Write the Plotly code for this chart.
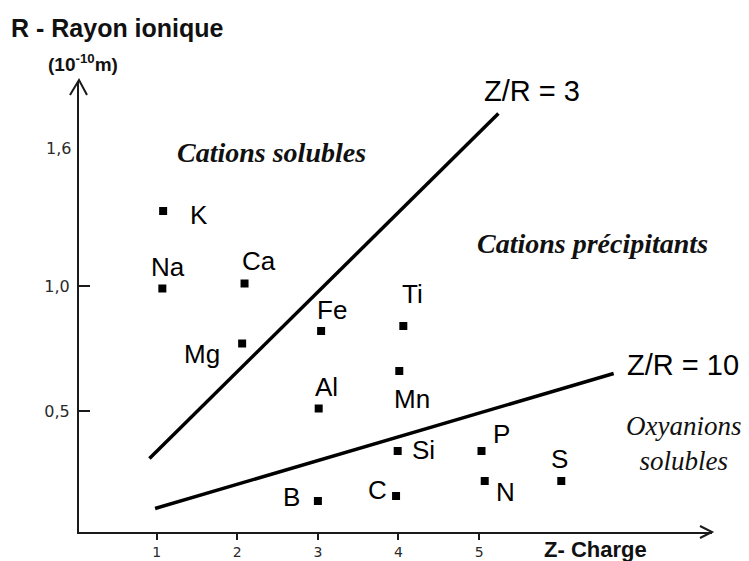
import plotly.graph_objects as go

# ---------------- data ----------------
elements = ["K", "Na", "Ca", "Mg", "Fe", "Ti", "Mn", "Al", "Si", "C", "P", "N", "S", "B"]
charge_z = [1.08, 1.07, 2.09, 2.06, 3.04, 4.06, 4.01, 3.01, 3.99, 3.97, 5.03, 5.07, 6.02, 3.00]
radius_r = [1.30, 0.99, 1.01, 0.77, 0.82, 0.84, 0.66, 0.51, 0.34, 0.16, 0.34, 0.22, 0.22, 0.14]

line3_x = [0.91, 5.24]
line3_y = [0.31, 1.69]
line10_x = [0.98, 6.67]
line10_y = [0.11, 0.65]

x_tickvals = [1, 2, 3, 4, 5]
x_ticktext = ["1", "2", "3", "4", "5"]
y_tickvals = [0.5, 1.0]
y_ticktext = ["0,5", "1,0"]
y_extra_label = "1,6"
y_extra_pos = 1.552

# ---------------- styling / layout ----------------
W, H = 749, 561
L, R, T, B = 79, 37, 82, 29
PW, PH = W - L - R, H - T - B

def px(xp, yp):
    return (xp - L) / PW, (H - B - yp) / PH

SANS = "Liberation Sans, Arial, sans-serif"
SERIF = "Liberation Serif, Times New Roman, serif"
TICKFONT = dict(family="DejaVu Sans, sans-serif", size=16, color="#2a2a2a")
XTICKFONT = dict(family="DejaVu Sans, sans-serif", size=14, color="#2a2a2a")

# label offsets in pixels (dx right, dy up) relative to marker
label_offsets = {
    "K": (36, -4), "Na": (6, 22), "Ca": (14, 23), "Mg": (-40, -10),
    "Fe": (11, 21), "Ti": (9, 32), "Mn": (13, -28), "Al": (8, 22),
    "Si": (26, 1), "C": (-19, 6), "P": (20, 17), "N": (21, -11),
    "S": (-2, 22), "B": (-26, 4),
}

fig = go.Figure()

fig.add_trace(go.Scatter(x=line3_x, y=line3_y, mode="lines",
                         line=dict(color="black", width=3.5), hoverinfo="skip"))
fig.add_trace(go.Scatter(x=line10_x, y=line10_y, mode="lines",
                         line=dict(color="black", width=3.5), hoverinfo="skip"))
fig.add_trace(go.Scatter(x=charge_z, y=radius_r, mode="markers", text=elements,
                         marker=dict(symbol="square", size=8, color="black")))

annotations = []
for el, xv, yv in zip(elements, charge_z, radius_r):
    dx, dy = label_offsets[el]
    annotations.append(dict(x=xv, y=yv, xref="x", yref="y", text=el, showarrow=False,
                            xshift=dx, yshift=dy, xanchor="center", yanchor="middle",
                            font=dict(family=SANS, size=26, color="black")))

def txt(text, xp, yp, font, align="center"):
    xx, yy = px(xp, yp)
    annotations.append(dict(x=xx, y=yy, xref="paper", yref="paper", text=text,
                            showarrow=False, xanchor="center", yanchor="middle",
                            align=align, font=font))

txt("<b>R - Rayon ionique</b>", 117, 28, dict(family=SANS, size=25, color="#111"))
txt("<b>(10<sup>-10</sup>m)</b>", 83, 63, dict(family=SANS, size=19, color="#111"))
txt("<b><i>Cations solubles</i></b>", 271, 152, dict(family=SERIF, size=28, color="#111"))
txt("<b><i>Cations précipitants</i></b>", 592, 243, dict(family=SERIF, size=28, color="#111"))
txt("<i>Oxyanions<br>solubles</i>", 683, 443, dict(family=SERIF, size=27, color="#111"))
txt("Z/R = 3", 532, 91, dict(family=SANS, size=29, color="black"))
txt("Z/R = 10", 683, 365, dict(family=SANS, size=29, color="black"))
txt("<b>Z- Charge</b>", 595, 549, dict(family=SANS, size=22, color="#111"))

# the "1,6" label as drawn (no tick mark)
annotations.append(dict(x=0, y=y_extra_pos, xref="paper", yref="y", text=y_extra_label,
                        showarrow=False, xanchor="right", yanchor="middle", xshift=-6,
                        font=TICKFONT))

shapes = [
    dict(type="path", xref="paper", yref="paper", xsizemode="pixel", ysizemode="pixel",
         xanchor=1, yanchor=0, path="M -12,6 L 0,0 L -12,-6",
         line=dict(color="#1a1a1a", width=2)),
    dict(type="path", xref="paper", yref="paper", xsizemode="pixel", ysizemode="pixel",
         xanchor=0, yanchor=1, path="M -9,-13 L 0,2 L 8,-13",
         line=dict(color="#1a1a1a", width=2)),
]

fig.update_layout(
    width=W, height=H,
    margin=dict(l=L, r=R, t=T, b=B, autoexpand=False),
    paper_bgcolor="white", plot_bgcolor="white",
    showlegend=False,
    annotations=annotations,
    shapes=shapes,
    xaxis=dict(range=[0.036, 7.89], showgrid=False, zeroline=False,
               showline=True, linecolor="#1a1a1a", linewidth=2,
               ticks="outside", ticklen=6, tickwidth=1.5, tickcolor="#1a1a1a",
               tickvals=x_tickvals, ticktext=x_ticktext, tickfont=XTICKFONT,
               ticklabelstandoff=0),
    yaxis=dict(range=[0.016, 1.816], showgrid=False, zeroline=False,
               showline=True, linecolor="#1a1a1a", linewidth=2,
               ticks="inside", ticklen=11, tickwidth=2, tickcolor="#1a1a1a",
               tickvals=y_tickvals, ticktext=y_ticktext, tickfont=TICKFONT,
               ticklabelstandoff=4),
)

fig.write_html("out.html", config={"displayModeBar": False},
               post_script="document.body.style.margin='0px';document.body.style.padding='0px';")
